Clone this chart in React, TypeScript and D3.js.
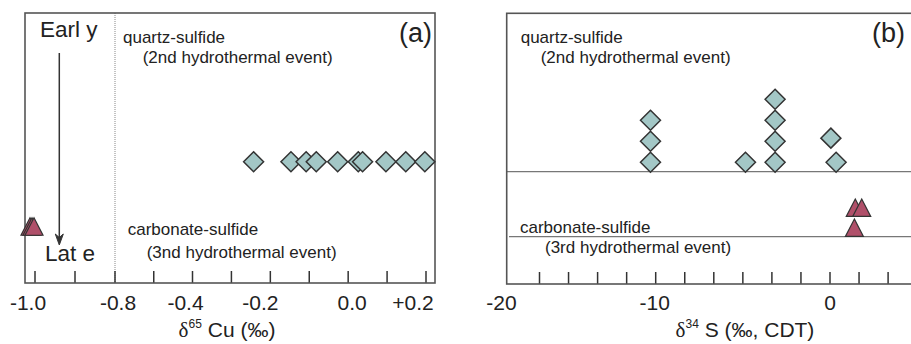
import * as d3 from 'd3';

// panel (a): δ65Cu
const cuQuartz = [-0.243, -0.147, -0.108, -0.082, -0.027, 0.026, 0.037, 0.097, 0.148, 0.197];
const cuCarbonate = [-1.0125, -1.0075, -1.0025];
const cuTicks = [-1.0, -0.9, -0.8, -0.6, -0.4, -0.3, -0.2, -0.1, 0, 0.1, 0.2];
const cuTickLabels = [
  { v: -1.0, t: '-1.0' },
  { v: -0.8, t: '-0.8' },
  { v: -0.4, t: '-0.4' },
  { v: -0.2, t: '-0.2' },
  { v: 0.0, t: '0.0' },
  { v: 0.2, t: '+0.2' },
];

// panel (b): δ34S, stacked by count
const sQuartzValues = [-10.3, -10.3, -10.3, -4.85, -3.15, -3.15, -3.15, -3.15, 0.35, 0.05];
const sQuartzStack = [0, 1, 2, 0, 0, 1, 2, 3, 0, 1.15];
const sCarbValues = [1.4, 1.45, 1.82];
const sCarbStack = [0, 1, 1];
const sTickLabels = [
  { v: -20, t: '-20' },
  { v: -10, t: '-10' },
  { v: 0, t: '0' },
];

const DIAMOND = '#a3c7c6';
const TRIANGLE = '#b0506a';
const INK = '#333';
const FONT = '"Liberation Sans", Arial, Helvetica, sans-serif';

const diamond = (x: number, y: number, r = 10) =>
  `M${x},${y - r}L${x + r},${y}L${x},${y + r}L${x - r},${y}Z`;
const triangle = (x: number, y: number, w = 18, h = 17.5) =>
  `M${x},${y - h / 2}L${x + w / 2},${y + h / 2}L${x - w / 2},${y + h / 2}Z`;

export default function App() {
  // panel a layout
  const a = { left: 25, right: 435, top: 13, bottom: 283 };
  const xA = d3.scaleLinear().domain([-1.0, -0.8, -0.4, 0.2]).range([35, 115, 192.5, 426]);
  const yA = d3.scalePoint<string>().domain(['quartz', 'carbonate']).range([161.7, 226.5]);
  const nudgeA: Record<string, number> = { '-1.0': -7, '-0.8': 3, '-0.4': -7, '-0.2': -10, '0.0': 4, '+0.2': -13 };

  // panel b layout
  const b = { left: 506.7, right: 915, top: 13.3, bottom: 284 };
  const xB = d3.scaleLinear().domain([-10, 0]).range([655.7, 830]);
  const sTicks = d3.range(-50 / 3, 4, 5 / 3);
  const yBq = d3.scaleLinear().domain([0, 3]).range([162.3, 99.3]);
  const yBc = d3.scaleLinear().domain([0, 1]).range([227.7, 207.7]);
  const lineQ = 171.7;
  const lineC = 236.7;
  const nudgeB: Record<string, number> = { '-20': 20, '-10': -1, '0': 0 };

  const tickLen = 12;
  const arrowX = 59.3;

  return (
    <svg
      width={911}
      height={344}
      style={{ position: 'absolute', left: 0, top: 0, background: '#fff', fontFamily: FONT }}
    >
      {/* ---------- panel (a) ---------- */}
      <line x1={xA(-0.8)} x2={xA(-0.8)} y1={a.top} y2={a.bottom} stroke="#888" strokeWidth={1} strokeDasharray="1 1" />
      {cuTicks.map((t) => (
        <line key={t} x1={xA(t)} x2={xA(t)} y1={a.bottom} y2={a.bottom - tickLen} stroke={INK} strokeWidth={1.5} />
      ))}
      <rect x={a.left} y={a.top} width={a.right - a.left} height={a.bottom - a.top} fill="none" stroke="#555" strokeWidth={1.6} />

      <text x={40} y={37} fontSize={22.5} fill="#222">Earl y</text>
      <line x1={arrowX} x2={arrowX} y1={53} y2={240} stroke={INK} strokeWidth={1.5} />
      <path d={`M${arrowX - 4},234L${arrowX},245L${arrowX + 4},234L${arrowX},237.5Z`} fill={INK} stroke={INK} strokeWidth={1} />
      <text x={45} y={260.5} fontSize={22.5} fill="#222">Lat e</text>

      <text x={123} y={43} fontSize={17} fill="#222">quartz-sulfide</text>
      <text x={142.7} y={63} fontSize={17} fill="#222">(2nd hydrothermal event)</text>
      <text x={127.7} y={235} fontSize={17} fill="#222">carbonate-sulfide</text>
      <text x={146.7} y={258} fontSize={17} fill="#222">(3nd hydrothermal event)</text>
      <text x={432} y={42} fontSize={27} textAnchor="end" fill="#222">(a)</text>

      {cuQuartz.map((v, i) => (
        <path key={i} d={diamond(xA(v), yA('quartz')!)} fill={DIAMOND} stroke={INK} strokeWidth={1.5} />
      ))}
      {cuCarbonate.map((v, i) => (
        <path key={i} d={triangle(xA(v), yA('carbonate')!)} fill={TRIANGLE} stroke={INK} strokeWidth={1.2} />
      ))}

      {cuTickLabels.map((d) => (
        <text key={d.t} x={xA(d.v) + nudgeA[d.t]} y={310} fontSize={21} textAnchor="middle" fill="#222">{d.t}</text>
      ))}
      <text x={227} y={337} fontSize={21} textAnchor="middle" fill="#222">
        <tspan fontFamily='"Liberation Serif", "Times New Roman", serif'>δ</tspan>
        <tspan fontSize={12} dy={-9}>65</tspan>
        <tspan dy={9}> Cu (‰)</tspan>
      </text>

      {/* ---------- panel (b) ---------- */}
      <line x1={b.left} x2={b.right} y1={lineQ} y2={lineQ} stroke="#777" strokeWidth={1.2} />
      <line x1={509} x2={b.right} y1={lineC} y2={lineC} stroke="#777" strokeWidth={1.2} />
      {sTicks.map((t, i) => (
        <line key={i} x1={xB(t)} x2={xB(t)} y1={b.bottom} y2={b.bottom - tickLen} stroke={INK} strokeWidth={1.5} />
      ))}
      <rect x={b.left} y={b.top} width={b.right - b.left} height={b.bottom - b.top} fill="none" stroke="#555" strokeWidth={1.6} />

      <text x={520.7} y={43} fontSize={17} fill="#222">quartz-sulfide</text>
      <text x={540.7} y={63} fontSize={17} fill="#222">(2nd hydrothermal event)</text>
      <text x={520} y={233} fontSize={17} fill="#222">carbonate-sulfide</text>
      <text x={545} y={253} fontSize={17} fill="#222">(3rd hydrothermal event)</text>
      <text x={905} y={42} fontSize={27} textAnchor="end" fill="#222">(b)</text>

      {sQuartzValues.map((v, i) => (
        <path key={i} d={diamond(xB(v), yBq(sQuartzStack[i]))} fill={DIAMOND} stroke={INK} strokeWidth={1.5} />
      ))}
      {sCarbValues.map((v, i) => (
        <path key={i} d={triangle(xB(v), yBc(sCarbStack[i]))} fill={TRIANGLE} stroke={INK} strokeWidth={1.2} />
      ))}

      {sTickLabels.map((d) => (
        <text key={d.t} x={xB(d.v) + nudgeB[d.t]} y={310} fontSize={21} textAnchor="middle" fill="#222">{d.t}</text>
      ))}
      <text x={745} y={337} fontSize={21} textAnchor="middle" fill="#222">
        <tspan fontFamily='"Liberation Serif", "Times New Roman", serif'>δ</tspan>
        <tspan fontSize={12} dy={-9}>34</tspan>
        <tspan dy={9}> S (‰, CDT)</tspan>
      </text>
    </svg>
  );
}
